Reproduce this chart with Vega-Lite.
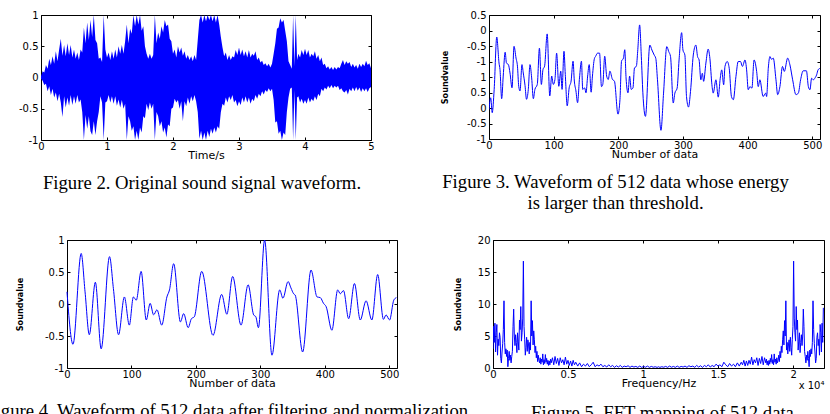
{
  "$schema": "https://vega.github.io/schema/vega-lite/v6.json",
  "padding": {"left": -15, "top": 10, "right": 0, "bottom": 0},
  "config": {
    "view": {"stroke": null},
    "numberFormat": "~r",
    "locale": {"number": {"decimal": ".", "thousands": ",", "grouping": [3], "currency": ["$", ""], "minus": "-"}},
    "axis": {
      "grid": false,
      "domainColor": "black", "domainWidth": 1,
      "tickColor": "black", "tickWidth": 1, "tickSize": -3,
      "labelFont": "DejaVu Sans", "labelFontSize": 10, "labelColor": "black", "labelPadding": 6,
      "labelFlush": false, "labelOverlap": false,
      "titleFont": "DejaVu Sans", "titleFontSize": 11, "titleFontWeight": "normal", "titleColor": "black"
    },
    "axisX": {"titlePadding": -2, "labelPadding": 4},
    "axisY": {"titleFont": "Liberation Sans Narrow, DejaVu Sans Condensed, DejaVu Sans", "titleFontWeight": "bold", "titleFontSize": 9},
    "title": {"font": "Liberation Serif", "fontSize": 18.7, "fontWeight": "normal", "color": "black", "orient": "bottom", "anchor": "middle", "frame": "group", "lineHeight": 21}
  },
  "datasets": {
    "speech": [
      {"t":0.000,"hi":0.02,"lo":-0.02},{"t":0.025,"hi":0.10,"lo":-0.05},{"t":0.050,"hi":0.08,"lo":-0.12},{"t":0.075,"hi":0.20,"lo":-0.10},
      {"t":0.100,"hi":0.14,"lo":-0.22},{"t":0.125,"hi":0.30,"lo":-0.14},{"t":0.150,"hi":0.20,"lo":-0.28},{"t":0.175,"hi":0.34,"lo":-0.18},
      {"t":0.200,"hi":0.22,"lo":-0.32},{"t":0.225,"hi":0.42,"lo":-0.24},{"t":0.250,"hi":0.26,"lo":-0.38},{"t":0.275,"hi":0.45,"lo":-0.26},
      {"t":0.300,"hi":0.62,"lo":-0.40},{"t":0.325,"hi":0.35,"lo":-0.63},{"t":0.350,"hi":0.52,"lo":-0.30},{"t":0.375,"hi":0.34,"lo":-0.48},
      {"t":0.400,"hi":0.55,"lo":-0.32},{"t":0.425,"hi":0.36,"lo":-0.45},{"t":0.450,"hi":0.52,"lo":-0.28},{"t":0.475,"hi":0.32,"lo":-0.44},
      {"t":0.500,"hi":0.45,"lo":-0.30},{"t":0.525,"hi":0.30,"lo":-0.42},{"t":0.550,"hi":0.40,"lo":-0.28},{"t":0.575,"hi":0.28,"lo":-0.40},
      {"t":0.600,"hi":0.45,"lo":-0.35},{"t":0.625,"hi":0.40,"lo":-0.55},{"t":0.650,"hi":0.80,"lo":-1.00},{"t":0.675,"hi":0.55,"lo":-0.60},
      {"t":0.700,"hi":0.88,"lo":-0.82},{"t":0.725,"hi":0.60,"lo":-0.62},{"t":0.750,"hi":0.92,"lo":-0.86},{"t":0.775,"hi":0.65,"lo":-0.92},
      {"t":0.800,"hi":1.00,"lo":-0.70},{"t":0.825,"hi":0.60,"lo":-0.92},{"t":0.850,"hi":0.55,"lo":-0.70},{"t":0.875,"hi":0.30,"lo":-0.55},
      {"t":0.900,"hi":0.32,"lo":-0.30},{"t":0.925,"hi":0.25,"lo":-0.40},{"t":0.950,"hi":1.00,"lo":-1.00},{"t":0.975,"hi":0.45,"lo":-0.40},
      {"t":1.000,"hi":0.32,"lo":-0.38},{"t":1.025,"hi":0.40,"lo":-0.28},{"t":1.050,"hi":0.28,"lo":-0.40},{"t":1.075,"hi":0.42,"lo":-0.30},
      {"t":1.100,"hi":0.30,"lo":-0.42},{"t":1.125,"hi":0.45,"lo":-0.30},{"t":1.150,"hi":0.32,"lo":-0.45},{"t":1.175,"hi":0.50,"lo":-0.35},
      {"t":1.200,"hi":0.38,"lo":-0.48},{"t":1.225,"hi":0.52,"lo":-0.36},{"t":1.250,"hi":0.38,"lo":-0.50},{"t":1.275,"hi":0.58,"lo":-0.42},
      {"t":1.300,"hi":0.85,"lo":-1.00},{"t":1.325,"hi":0.55,"lo":-0.62},{"t":1.350,"hi":0.78,"lo":-0.70},{"t":1.375,"hi":0.70,"lo":-0.85},
      {"t":1.400,"hi":1.00,"lo":-0.78},{"t":1.425,"hi":0.82,"lo":-1.00},{"t":1.450,"hi":1.00,"lo":-0.85},{"t":1.475,"hi":0.85,"lo":-1.00},
      {"t":1.500,"hi":1.00,"lo":-0.80},{"t":1.525,"hi":0.75,"lo":-0.88},{"t":1.550,"hi":0.82,"lo":-0.62},{"t":1.575,"hi":0.50,"lo":-0.65},
      {"t":1.600,"hi":0.38,"lo":-0.42},{"t":1.625,"hi":0.30,"lo":-0.52},{"t":1.650,"hi":0.38,"lo":-0.40},{"t":1.675,"hi":0.30,"lo":-0.50},
      {"t":1.700,"hi":0.36,"lo":-0.42},{"t":1.725,"hi":1.00,"lo":-1.00},{"t":1.750,"hi":0.55,"lo":-0.55},{"t":1.775,"hi":0.72,"lo":-0.62},
      {"t":1.800,"hi":0.62,"lo":-0.78},{"t":1.825,"hi":0.82,"lo":-0.70},{"t":1.850,"hi":0.72,"lo":-0.88},{"t":1.875,"hi":0.92,"lo":-0.80},
      {"t":1.900,"hi":0.82,"lo":-0.96},{"t":1.925,"hi":0.85,"lo":-0.75},{"t":1.950,"hi":0.62,"lo":-0.78},{"t":1.975,"hi":0.58,"lo":-0.50},
      {"t":2.000,"hi":0.38,"lo":-0.48},{"t":2.025,"hi":0.45,"lo":-0.34},{"t":2.050,"hi":0.32,"lo":-0.40},{"t":2.075,"hi":0.50,"lo":-0.36},
      {"t":2.100,"hi":0.40,"lo":-0.50},{"t":2.125,"hi":0.48,"lo":-0.38},{"t":2.150,"hi":0.35,"lo":-0.70},{"t":2.175,"hi":0.42,"lo":-0.38},
      {"t":2.200,"hi":0.30,"lo":-0.46},{"t":2.225,"hi":0.36,"lo":-0.32},{"t":2.250,"hi":0.28,"lo":-0.42},{"t":2.275,"hi":0.34,"lo":-0.30},
      {"t":2.300,"hi":0.26,"lo":-0.38},{"t":2.325,"hi":0.36,"lo":-0.28},{"t":2.350,"hi":0.28,"lo":-0.38},{"t":2.375,"hi":0.60,"lo":-0.55},
      {"t":2.400,"hi":0.92,"lo":-0.98},{"t":2.425,"hi":1.00,"lo":-0.85},{"t":2.450,"hi":0.88,"lo":-1.00},{"t":2.475,"hi":1.00,"lo":-0.88},
      {"t":2.500,"hi":0.90,"lo":-1.00},{"t":2.525,"hi":1.00,"lo":-0.85},{"t":2.550,"hi":0.92,"lo":-0.95},{"t":2.575,"hi":1.00,"lo":-0.82},
      {"t":2.600,"hi":0.90,"lo":-0.90},{"t":2.625,"hi":1.00,"lo":-0.80},{"t":2.650,"hi":0.88,"lo":-0.88},{"t":2.675,"hi":1.00,"lo":-0.78},
      {"t":2.700,"hi":0.85,"lo":-0.82},{"t":2.725,"hi":0.65,"lo":-0.55},{"t":2.750,"hi":0.48,"lo":-0.42},{"t":2.775,"hi":0.34,"lo":-0.45},
      {"t":2.800,"hi":0.40,"lo":-0.32},{"t":2.825,"hi":0.28,"lo":-0.40},{"t":2.850,"hi":0.36,"lo":-0.30},{"t":2.875,"hi":0.28,"lo":-0.36},
      {"t":2.900,"hi":0.34,"lo":-0.28},{"t":2.925,"hi":0.32,"lo":-0.40},{"t":2.950,"hi":0.44,"lo":-0.36},{"t":2.975,"hi":0.36,"lo":-0.46},
      {"t":3.000,"hi":0.48,"lo":-0.38},{"t":3.025,"hi":0.36,"lo":-0.44},{"t":3.050,"hi":0.45,"lo":-0.32},{"t":3.075,"hi":0.34,"lo":-0.40},
      {"t":3.100,"hi":0.42,"lo":-0.30},{"t":3.125,"hi":0.32,"lo":-0.40},{"t":3.150,"hi":0.44,"lo":-0.32},{"t":3.175,"hi":0.32,"lo":-0.42},
      {"t":3.200,"hi":0.38,"lo":-0.34},{"t":3.225,"hi":0.35,"lo":-0.38},{"t":3.250,"hi":0.42,"lo":-0.28},{"t":3.275,"hi":0.28,"lo":-0.34},
      {"t":3.300,"hi":0.32,"lo":-0.26},{"t":3.325,"hi":0.24,"lo":-0.30},{"t":3.350,"hi":0.27,"lo":-0.22},{"t":3.375,"hi":0.20,"lo":-0.27},
      {"t":3.400,"hi":0.23,"lo":-0.20},{"t":3.425,"hi":0.18,"lo":-0.23},{"t":3.450,"hi":0.22,"lo":-0.17},{"t":3.475,"hi":0.16,"lo":-0.22},
      {"t":3.500,"hi":0.22,"lo":-0.18},{"t":3.525,"hi":0.38,"lo":-0.36},{"t":3.550,"hi":0.55,"lo":-0.72},{"t":3.575,"hi":0.78,"lo":-0.70},
      {"t":3.600,"hi":0.80,"lo":-0.90},{"t":3.625,"hi":0.95,"lo":-0.85},{"t":3.650,"hi":0.88,"lo":-1.00},{"t":3.675,"hi":0.92,"lo":-0.88},
      {"t":3.700,"hi":0.75,"lo":-0.92},{"t":3.725,"hi":0.58,"lo":-0.55},{"t":3.750,"hi":0.26,"lo":-0.32},{"t":3.775,"hi":0.20,"lo":-0.18},
      {"t":3.800,"hi":0.14,"lo":-0.16},{"t":3.820,"hi":1.00,"lo":-1.00},{"t":3.840,"hi":0.18,"lo":-0.20},{"t":3.860,"hi":1.00,"lo":-1.00},
      {"t":3.880,"hi":0.28,"lo":-0.32},{"t":3.900,"hi":0.38,"lo":-0.30},{"t":3.925,"hi":0.32,"lo":-0.40},{"t":3.950,"hi":0.44,"lo":-0.34},
      {"t":3.975,"hi":0.36,"lo":-0.42},{"t":4.000,"hi":0.46,"lo":-0.36},{"t":4.025,"hi":0.36,"lo":-0.42},{"t":4.050,"hi":0.44,"lo":-0.32},
      {"t":4.075,"hi":0.32,"lo":-0.40},{"t":4.100,"hi":0.38,"lo":-0.34},{"t":4.125,"hi":0.34,"lo":-0.38},{"t":4.150,"hi":0.42,"lo":-0.30},
      {"t":4.175,"hi":0.30,"lo":-0.36},{"t":4.200,"hi":0.36,"lo":-0.26},{"t":4.225,"hi":0.26,"lo":-0.30},{"t":4.250,"hi":0.32,"lo":-0.18},
      {"t":4.275,"hi":0.20,"lo":-0.22},{"t":4.300,"hi":0.22,"lo":-0.16},{"t":4.325,"hi":0.15,"lo":-0.19},{"t":4.350,"hi":0.18,"lo":-0.13},
      {"t":4.375,"hi":0.13,"lo":-0.17},{"t":4.400,"hi":0.17,"lo":-0.12},{"t":4.425,"hi":0.12,"lo":-0.17},{"t":4.450,"hi":0.17,"lo":-0.13},
      {"t":4.475,"hi":0.13,"lo":-0.16},{"t":4.500,"hi":0.17,"lo":-0.13},{"t":4.525,"hi":0.15,"lo":-0.20},{"t":4.550,"hi":0.22,"lo":-0.17},
      {"t":4.575,"hi":0.28,"lo":-0.22},{"t":4.600,"hi":0.20,"lo":-0.24},{"t":4.625,"hi":0.26,"lo":-0.20},{"t":4.650,"hi":0.22,"lo":-0.27},
      {"t":4.675,"hi":0.25,"lo":-0.18},{"t":4.700,"hi":0.17,"lo":-0.22},{"t":4.725,"hi":0.22,"lo":-0.16},{"t":4.750,"hi":0.16,"lo":-0.22},
      {"t":4.775,"hi":0.20,"lo":-0.15},{"t":4.800,"hi":0.14,"lo":-0.21},{"t":4.825,"hi":0.22,"lo":-0.16},{"t":4.850,"hi":0.17,"lo":-0.23},
      {"t":4.875,"hi":0.22,"lo":-0.17},{"t":4.900,"hi":0.18,"lo":-0.22},{"t":4.925,"hi":0.27,"lo":-0.17},{"t":4.950,"hi":0.20,"lo":-0.23},
      {"t":4.975,"hi":0.23,"lo":-0.17},{"t":5.000,"hi":0.15,"lo":-0.15}
    ],
    "frame512": [
      {"n":0,"v":-0.05},{"n":2.6,"v":0.33},{"n":5,"v":-0.15},{"n":8,"v":0.6},{"n":12,"v":2.29},{"n":15.5,"v":1.45},{"n":17,"v":1.24},
      {"n":19.6,"v":0.3},{"n":22,"v":1.03},{"n":25,"v":1.8},{"n":27,"v":1.45},{"n":30,"v":1.4},{"n":32.5,"v":1.13},{"n":35.6,"v":0.65},
      {"n":38.7,"v":1.99},{"n":41.8,"v":1.61},{"n":44,"v":1.35},{"n":46,"v":0.7},{"n":48,"v":0.55},{"n":51,"v":1.4},{"n":53,"v":1.13},
      {"n":55.7,"v":0.73},{"n":58,"v":0.28},{"n":60.8,"v":0.6},{"n":63.4,"v":1.4},{"n":66,"v":0.97},{"n":68.6,"v":0.3},{"n":71,"v":0.6},
      {"n":74.7,"v":0.76},{"n":78,"v":1.93},{"n":81,"v":0.76},{"n":83.5,"v":1.24},{"n":86,"v":1.35},{"n":90,"v":2.39},{"n":94,"v":0.39},
      {"n":97,"v":1.03},{"n":99.5,"v":0.76},{"n":102,"v":0.92},{"n":104.6,"v":1.77},{"n":108,"v":0.7},{"n":111,"v":1.19},{"n":113,"v":0.6},
      {"n":116,"v":1.83},{"n":118,"v":1.08},{"n":121,"v":0.07},{"n":124,"v":0.65},{"n":127,"v":0.87},{"n":130,"v":1.51},{"n":132,"v":0.87},
      {"n":134.5,"v":0.55},{"n":137,"v":0.17},{"n":140,"v":0.97},{"n":143,"v":1.51},{"n":145,"v":0.6},{"n":148,"v":0.65},{"n":150,"v":0.49},
      {"n":152.6,"v":1.03},{"n":155,"v":1.4},{"n":158,"v":0.51},{"n":160,"v":1.03},{"n":163,"v":1.59},{"n":165,"v":1.67},{"n":168,"v":1.77},
      {"n":171,"v":1.77},{"n":174,"v":0.69},{"n":176,"v":0.76},{"n":179,"v":1.67},{"n":182,"v":1.03},{"n":184.5,"v":0.92},{"n":187,"v":1.19},
      {"n":191,"v":0.92},{"n":194,"v":0.87},{"n":199.5,"v":-0.2},{"n":202.6,"v":0.28},{"n":205,"v":1.51},{"n":208,"v":1.61},{"n":210,"v":1.88},
      {"n":212,"v":0.97},{"n":215,"v":0.49},{"n":217.5,"v":1.03},{"n":220,"v":0.6},{"n":222.7,"v":0.65},{"n":225,"v":1.29},{"n":228,"v":1.35},
      {"n":230,"v":1.83},{"n":233,"v":2.68},{"n":235.6,"v":1.67},{"n":238,"v":0.49},{"n":242,"v":-0.27},{"n":248.8,"v":2.03},{"n":252,"v":1.87},
      {"n":255.5,"v":1.71},{"n":258,"v":1.6},{"n":260.6,"v":0.91},{"n":266,"v":-0.72},{"n":270,"v":0.48},{"n":275,"v":1.98},{"n":278,"v":1.82},
      {"n":280.8,"v":1.66},{"n":285,"v":0.16},{"n":287.5,"v":0.48},{"n":291,"v":0.64},{"n":294,"v":1.55},{"n":298,"v":2.43},{"n":300,"v":1.87},
      {"n":303,"v":1.71},{"n":305.5,"v":0.37},{"n":308.6,"v":0.03},{"n":311.7,"v":0.53},{"n":316,"v":1.71},{"n":320,"v":2.03},{"n":322.6,"v":1.66},
      {"n":325,"v":1.55},{"n":327.7,"v":0.91},{"n":330,"v":1.12},{"n":332,"v":0.86},{"n":335.5,"v":1.45},{"n":339,"v":1.9},{"n":341.7,"v":1.6},
      {"n":344.8,"v":0.75},{"n":346.8,"v":0.48},{"n":351,"v":0.91},{"n":354.6,"v":0.35},{"n":357.7,"v":0.96},{"n":360,"v":1.23},{"n":363,"v":0.75},
      {"n":365,"v":1.34},{"n":368.5,"v":1.5},{"n":371.6,"v":1.28},{"n":375,"v":0.37},{"n":378,"v":0.27},{"n":382,"v":1.02},{"n":385.5,"v":1.5},
      {"n":389,"v":1.5},{"n":392,"v":1.34},{"n":396,"v":1.55},{"n":398.5,"v":1.23},{"n":401,"v":0.59},{"n":403.6,"v":0.69},{"n":406.7,"v":0.64},
      {"n":410,"v":1.55},{"n":414,"v":1.18},{"n":416.5,"v":0.69},{"n":419,"v":0.91},{"n":424,"v":0.37},{"n":428,"v":0.48},{"n":429.4,"v":0.37},
      {"n":432,"v":1.28},{"n":434.6,"v":1.66},{"n":437,"v":1.57},{"n":439.7,"v":1.61},{"n":443.9,"v":0.91},{"n":446.5,"v":0.43},{"n":450,"v":0.69},
      {"n":454,"v":1.34},{"n":456.8,"v":1.18},{"n":462,"v":1.61},{"n":465.5,"v":1.39},{"n":469.7,"v":0.91},{"n":474.8,"v":0.43},{"n":478.5,"v":0.48},
      {"n":482,"v":0.91},{"n":486,"v":1.2},{"n":491,"v":1.2},{"n":494,"v":0.69},{"n":496.5,"v":0.59},{"n":499,"v":0.96},{"n":501.7,"v":0.91},
      {"n":504,"v":0.96},{"n":506.8,"v":1.07},{"n":509,"v":1.23},{"n":512,"v":1.28}
    ],
    "filtered": [
      {"n":0,"v":0.19},{"n":9.3,"v":-0.63},{"n":22,"v":0.79},{"n":28,"v":0.19},{"n":34.6,"v":-0.48},{"n":44,"v":0.34},{"n":53,"v":-0.70},
      {"n":66,"v":0.74},{"n":72,"v":0.24},{"n":80,"v":-0.48},{"n":89,"v":0.11},{"n":96.7,"v":-0.33},{"n":103,"v":0.11},{"n":107.5,"v":0.06},
      {"n":115,"v":0.51},{"n":123,"v":-0.25},{"n":129,"v":0.01},{"n":134.4,"v":-0.17},{"n":139.6,"v":-0.09},{"n":147,"v":-0.33},{"n":155,"v":0.11},
      {"n":159,"v":0.22},{"n":165.5,"v":0.63},{"n":176,"v":-0.28},{"n":181,"v":-0.15},{"n":188,"v":-0.37},{"n":193,"v":-0.23},{"n":197.5,"v":-0.20},
      {"n":209,"v":0.51},{"n":226.5,"v":-0.49},{"n":240,"v":0.15},{"n":248,"v":-0.16},{"n":257,"v":0.43},{"n":270,"v":-0.33},{"n":281,"v":0.30},
      {"n":289.6,"v":-0.17},{"n":293,"v":-0.20},{"n":297,"v":-0.37},{"n":306.6,"v":1.0},{"n":318,"v":-0.80},{"n":330,"v":0.22},{"n":335,"v":0.09},
      {"n":343,"v":0.35},{"n":347.5,"v":0.25},{"n":351.6,"v":0.16},{"n":354,"v":0.14},{"n":365.6,"v":-0.75},{"n":378.6,"v":0.53},{"n":388,"v":0.11},
      {"n":393,"v":0.10},{"n":398,"v":0.01},{"n":402,"v":-0.04},{"n":411,"v":-0.41},{"n":420,"v":0.22},{"n":424,"v":0.16},{"n":429,"v":0.21},
      {"n":437,"v":-0.23},{"n":446,"v":0.32},{"n":455,"v":-0.25},{"n":464,"v":0.05},{"n":473,"v":-0.25},{"n":482,"v":0.46},{"n":491,"v":-0.24},
      {"n":495,"v":-0.17},{"n":500.5,"v":-0.25},{"n":507,"v":0.06},{"n":511,"v":0.10}
    ],
    "spectrum": [
      {"f":0,"a":3.0},{"f":43,"a":6.5},{"f":86,"a":4.0},{"f":129,"a":7.0},{"f":172,"a":2.5},{"f":215,"a":5.5},{"f":258,"a":6.8},{"f":301,"a":2.0},
      {"f":344,"a":4.5},{"f":387,"a":3.5},{"f":430,"a":5.5},{"f":473,"a":4.8},{"f":516,"a":1.5},{"f":560,"a":0.8},{"f":603,"a":2.5},{"f":646,"a":3.8},
      {"f":689,"a":6.0},{"f":732,"a":10.5},{"f":775,"a":4.0},{"f":818,"a":2.2},{"f":861,"a":3.0},{"f":904,"a":1.8},{"f":947,"a":2.8},{"f":990,"a":0.2},
      {"f":1033,"a":1.5},{"f":1077,"a":2.6},{"f":1120,"a":1.2},{"f":1163,"a":2.0},{"f":1206,"a":0.8},{"f":1249,"a":1.8},{"f":1292,"a":2.6},{"f":1335,"a":6.5},
      {"f":1378,"a":9.2},{"f":1421,"a":5.0},{"f":1464,"a":3.5},{"f":1507,"a":5.2},{"f":1550,"a":4.0},{"f":1593,"a":2.4},{"f":1636,"a":5.5},{"f":1679,"a":4.2},
      {"f":1722,"a":2.8},{"f":1765,"a":7.5},{"f":1808,"a":6.0},{"f":1851,"a":9.6},{"f":1894,"a":4.2},{"f":1937,"a":5.5},{"f":1980,"a":7.8},{"f":2024,"a":16.7},
      {"f":2067,"a":6.5},{"f":2110,"a":4.5},{"f":2153,"a":2.0},{"f":2196,"a":3.2},{"f":2239,"a":4.8},{"f":2282,"a":2.6},{"f":2325,"a":4.4},{"f":2368,"a":3.6},
      {"f":2412,"a":2.2},{"f":2455,"a":4.0},{"f":2498,"a":2.8},{"f":2541,"a":10.5},{"f":2584,"a":5.0},{"f":2627,"a":7.4},{"f":2670,"a":3.6},{"f":2713,"a":5.8},
      {"f":2756,"a":4.4},{"f":2800,"a":2.4},{"f":2843,"a":3.4},{"f":2886,"a":1.6},{"f":2929,"a":2.6},{"f":2972,"a":1.0},{"f":3015,"a":2.0},{"f":3058,"a":1.2},
      {"f":3101,"a":0.8},{"f":3144,"a":1.6},{"f":3187,"a":0.6},{"f":3230,"a":1.4},{"f":3273,"a":0.9},{"f":3316,"a":2.2},{"f":3359,"a":0.5},{"f":3402,"a":1.3},
      {"f":3445,"a":0.7},{"f":3488,"a":2.1},{"f":3531,"a":0.9},{"f":3574,"a":1.5},{"f":3617,"a":0.6},{"f":3660,"a":1.2},{"f":3703,"a":0.4},{"f":3746,"a":1.1},
      {"f":3789,"a":0.5},{"f":3832,"a":1.4},{"f":3875,"a":0.8},{"f":3961,"a":1.6},{"f":4047,"a":0.5},{"f":4133,"a":1.8},{"f":4220,"a":0.7},{"f":4306,"a":1.5},
      {"f":4392,"a":0.4},{"f":4478,"a":1.6},{"f":4565,"a":0.8},{"f":4651,"a":1.3},{"f":4737,"a":0.5},{"f":4823,"a":1.7},{"f":4910,"a":0.6},{"f":4996,"a":1.2},
      {"f":5082,"a":0.4},{"f":5168,"a":1.1},{"f":5254,"a":0.3},{"f":5340,"a":1.2},{"f":5427,"a":0.5},{"f":5513,"a":0.9},{"f":5643,"a":0.3},{"f":5771,"a":0.8},
      {"f":5900,"a":0.2},{"f":6029,"a":0.6},{"f":6158,"a":0.3},{"f":6287,"a":0.7},{"f":6416,"a":0.2},{"f":6545,"a":0.5},{"f":6674,"a":0.9},{"f":6803,"a":0.2},
      {"f":6932,"a":0.5},{"f":7062,"a":0.3},{"f":7191,"a":0.6},{"f":7320,"a":0.2},{"f":7449,"a":0.4},{"f":7578,"a":0.15},{"f":7707,"a":0.5},{"f":7836,"a":0.2},
      {"f":7966,"a":0.4},{"f":8095,"a":0.1},{"f":8224,"a":0.35},{"f":8353,"a":0.15},{"f":8482,"a":0.4},{"f":8611,"a":0.1},{"f":8740,"a":0.3},{"f":8870,"a":0.2},
      {"f":8999,"a":0.35},{"f":9128,"a":0.1},{"f":9257,"a":0.3},{"f":9386,"a":0.15},{"f":9515,"a":0.25},{"f":9644,"a":0.1},{"f":9773,"a":0.3},{"f":9903,"a":0.1},
      {"f":10032,"a":0.25},{"f":10161,"a":0.12},{"f":10290,"a":0.3},{"f":10419,"a":0.1},{"f":10548,"a":0.25},{"f":10677,"a":0.12},{"f":10806,"a":0.2},{"f":10935,"a":0.1},
      {"f":11025,"a":0.2},
      {"f":11115,"a":0.1},{"f":11244,"a":0.2},{"f":11373,"a":0.12},{"f":11502,"a":0.25},{"f":11631,"a":0.1},{"f":11760,"a":0.3},{"f":11889,"a":0.12},{"f":12018,"a":0.25},
      {"f":12147,"a":0.1},{"f":12277,"a":0.3},{"f":12406,"a":0.1},{"f":12535,"a":0.25},{"f":12664,"a":0.15},{"f":12793,"a":0.3},{"f":12922,"a":0.1},{"f":13051,"a":0.35},
      {"f":13180,"a":0.2},{"f":13310,"a":0.3},{"f":13439,"a":0.1},{"f":13568,"a":0.4},{"f":13697,"a":0.15},{"f":13826,"a":0.35},{"f":13955,"a":0.1},{"f":14084,"a":0.4},
      {"f":14214,"a":0.2},{"f":14343,"a":0.5},{"f":14472,"a":0.15},{"f":14601,"a":0.4},{"f":14730,"a":0.2},{"f":14859,"a":0.6},{"f":14988,"a":0.3},{"f":15118,"a":0.5},
      {"f":15247,"a":0.2},{"f":15376,"a":0.9},{"f":15505,"a":0.5},{"f":15634,"a":0.2},{"f":15763,"a":0.7},{"f":15892,"a":0.3},{"f":16021,"a":0.6},{"f":16150,"a":0.2},
      {"f":16279,"a":0.8},{"f":16407,"a":0.3},{"f":16537,"a":0.9},{"f":16623,"a":0.5},{"f":16710,"a":1.2},{"f":16796,"a":0.3},{"f":16882,"a":1.1},{"f":16968,"a":0.4},
      {"f":17054,"a":1.2},{"f":17140,"a":0.6},{"f":17227,"a":1.7},{"f":17313,"a":0.5},{"f":17399,"a":1.3},{"f":17485,"a":0.8},{"f":17572,"a":1.6},{"f":17658,"a":0.4},
      {"f":17744,"a":1.5},{"f":17830,"a":0.7},{"f":17917,"a":1.8},{"f":18003,"a":0.5},{"f":18089,"a":1.6},{"f":18175,"a":0.8},{"f":18218,"a":1.4},{"f":18261,"a":0.5},
      {"f":18304,"a":1.1},{"f":18347,"a":0.4},{"f":18390,"a":1.2},{"f":18433,"a":0.6},{"f":18476,"a":1.5},{"f":18519,"a":0.9},{"f":18562,"a":2.1},{"f":18605,"a":0.7},
      {"f":18648,"a":1.3},{"f":18691,"a":0.5},{"f":18734,"a":2.2},{"f":18777,"a":0.9},{"f":18820,"a":1.4},{"f":18863,"a":0.6},{"f":18906,"a":1.6},{"f":18949,"a":0.8},
      {"f":18992,"a":1.2},{"f":19035,"a":2.0},{"f":19078,"a":1.0},{"f":19121,"a":2.6},{"f":19164,"a":1.6},{"f":19207,"a":3.4},{"f":19250,"a":2.4},{"f":19294,"a":4.4},
      {"f":19337,"a":5.8},{"f":19380,"a":3.6},{"f":19423,"a":7.4},{"f":19466,"a":5.0},{"f":19509,"a":10.5},{"f":19552,"a":2.8},{"f":19595,"a":4.0},{"f":19638,"a":2.2},
      {"f":19682,"a":3.6},{"f":19725,"a":4.4},{"f":19768,"a":2.6},{"f":19811,"a":4.8},{"f":19854,"a":3.2},{"f":19897,"a":2.0},{"f":19940,"a":4.5},{"f":19983,"a":6.5},
      {"f":20026,"a":16.7},{"f":20070,"a":7.8},{"f":20113,"a":5.5},{"f":20156,"a":4.2},{"f":20199,"a":9.6},{"f":20242,"a":6.0},{"f":20285,"a":7.5},{"f":20328,"a":2.8},
      {"f":20371,"a":4.2},{"f":20414,"a":5.5},{"f":20457,"a":2.4},{"f":20500,"a":4.0},{"f":20543,"a":5.2},{"f":20586,"a":3.5},{"f":20629,"a":5.0},{"f":20672,"a":9.2},
      {"f":20715,"a":6.5},{"f":20758,"a":2.6},{"f":20801,"a":1.8},{"f":20844,"a":0.8},{"f":20887,"a":2.0},{"f":20930,"a":1.2},{"f":20973,"a":2.6},{"f":21017,"a":1.5},
      {"f":21060,"a":0.2},{"f":21103,"a":2.8},{"f":21146,"a":1.8},{"f":21189,"a":3.0},{"f":21232,"a":2.2},{"f":21275,"a":4.0},{"f":21318,"a":10.5},{"f":21361,"a":6.0},
      {"f":21404,"a":3.8},{"f":21447,"a":2.5},{"f":21490,"a":0.8},{"f":21534,"a":1.5},{"f":21577,"a":4.8},{"f":21620,"a":5.5},{"f":21663,"a":3.5},{"f":21706,"a":4.5},
      {"f":21749,"a":2.0},{"f":21792,"a":6.8},{"f":21835,"a":5.5},{"f":21878,"a":2.5},{"f":21921,"a":7.0},{"f":21964,"a":4.0},{"f":22007,"a":9.4}
    ]
  },
  "spacing": 225,
  "bounds": "flush",
  "vconcat": [
    {
      "spacing": 118,
      "bounds": "flush",
      "hconcat": [
        {
          "width": 330, "height": 125,
          "title": {"text": "Figure 2. Original sound signal waveform.", "dx": -4, "offset": 14},
          "data": {"name": "speech"},
          "layer": [
            {
              "mark": {"type": "area", "color": "#0000ff", "clip": true},
              "encoding": {
                "x": {"field": "t", "type": "quantitative", "scale": {"domain": [0, 5], "nice": false, "zero": false},
                      "axis": {"values": [0, 1, 2, 3, 4, 5], "title": "Time/s"}},
                "y": {"field": "hi", "type": "quantitative", "scale": {"domain": [-1, 1], "nice": false},
                      "axis": {"values": [-1, -0.5, 0, 0.5, 1], "title": null}},
                "y2": {"field": "lo"}
              }
            },
            {
              "mark": {"type": "line", "opacity": 0},
              "encoding": {
                "x": {"field": "t", "type": "quantitative", "axis": {"orient": "top", "values": [0, 1, 2, 3, 4, 5], "labels": false, "title": null}},
                "y": {"field": "hi", "type": "quantitative", "axis": {"orient": "right", "values": [-1, -0.5, 0, 0.5, 1], "labels": false, "title": null}}
              }
            }
          ],
          "resolve": {"axis": {"x": "independent", "y": "independent"}}
        },
        {
          "width": 331, "height": 124,
          "title": {"text": ["Figure 3. Waveform of 512 data whose energy", "is larger than threshold."], "dx": -39, "offset": 14},
          "data": {"name": "frame512"},
          "layer": [
            {
              "mark": {"type": "line", "color": "#0000ff", "strokeWidth": 1, "interpolate": "monotone", "clip": true},
              "encoding": {
                "x": {"field": "n", "type": "quantitative", "scale": {"domain": [0, 512], "nice": false, "zero": false},
                      "axis": {"values": [0, 100, 200, 300, 400, 500], "title": "Number of data"}},
                "y": {"field": "v", "type": "quantitative", "scale": {"domain": [-1, 3], "nice": false},
                      "axis": {"values": [-1, -0.5, 0, 0.5, 1, 1.5, 2, 2.5, 3],
                               "labelExpr": "replace(datum.value > 1 ? format(datum.value - 2.5, '') : format(datum.value, ''), '\u2212', '-')",
                               "title": "Soundvalue", "titlePadding": 17}}
              }
            },
            {
              "mark": {"type": "line", "opacity": 0},
              "encoding": {
                "x": {"field": "n", "type": "quantitative", "axis": {"orient": "top", "values": [0, 100, 200, 300, 400, 500], "labels": false, "title": null}},
                "y": {"field": "v", "type": "quantitative", "axis": {"orient": "right", "values": [-1, -0.5, 0, 0.5, 1, 1.5, 2, 2.5, 3], "labels": false, "title": null}}
              }
            }
          ],
          "resolve": {"axis": {"x": "independent", "y": "independent"}}
        }
      ]
    },
    {
      "spacing": 96,
      "bounds": "flush",
      "hconcat": [
        {
          "width": 356, "height": 128,
          "title": {"text": "Figure 4. Waveform of 512 data after filtering and normalization.", "dx": 10, "offset": 14},
          "data": {"name": "filtered"},
          "layer": [
            {
              "mark": {"type": "line", "color": "#0000ff", "strokeWidth": 1, "interpolate": "monotone", "clip": true},
              "encoding": {
                "x": {"field": "n", "type": "quantitative", "scale": {"domain": [0, 512], "range": [26, 356], "nice": false, "zero": false},
                      "axis": {"values": [0, 100, 200, 300, 400, 500], "title": "Number of data"}},
                "y": {"field": "v", "type": "quantitative", "scale": {"domain": [-1, 1], "nice": false},
                      "axis": {"values": [-1, -0.5, 0, 0.5, 1], "offset": -26, "title": "Soundvalue", "titlePadding": 20}}
              }
            },
            {
              "mark": {"type": "line", "opacity": 0},
              "encoding": {
                "x": {"field": "n", "type": "quantitative", "axis": {"orient": "top", "values": [0, 100, 200, 300, 400, 500], "labels": false, "title": null}},
                "y": {"field": "v", "type": "quantitative", "axis": {"orient": "right", "values": [-1, -0.5, 0, 0.5, 1], "labels": false, "title": null}}
              }
            }
          ],
          "resolve": {"axis": {"x": "independent", "y": "independent"}}
        },
        {
          "width": 331, "height": 128,
          "title": {"text": "Figure 5. FFT mapping of 512 data", "dx": 4, "offset": 14},
          "data": {"name": "spectrum"},
          "layer": [
            {
              "mark": {"type": "line", "color": "#0000ff", "strokeWidth": 1, "clip": true},
              "encoding": {
                "x": {"field": "f", "type": "quantitative", "scale": {"domain": [0, 22050], "nice": false, "zero": false},
                      "axis": {"values": [0, 5000, 10000, 15000, 20000], "labelExpr": "format(datum.value / 10000, '')", "title": "Frequency/Hz"}},
                "y": {"field": "a", "type": "quantitative", "scale": {"domain": [0, 20], "nice": false},
                      "axis": {"values": [0, 5, 10, 15, 20], "title": "Soundvalue", "titlePadding": 15}}
              }
            },
            {
              "mark": {"type": "line", "opacity": 0},
              "encoding": {
                "x": {"field": "f", "type": "quantitative", "axis": {"orient": "top", "values": [0, 5000, 10000, 15000, 20000], "labels": false, "title": null}},
                "y": {"field": "a", "type": "quantitative", "axis": {"orient": "right", "values": [0, 5, 10, 15, 20], "labels": false, "title": null}}
              }
            },
            {
              "mark": {"type": "line", "opacity": 0},
              "encoding": {
                "x": {"field": "f", "type": "quantitative",
                      "axis": {"orient": "bottom", "domain": false, "ticks": false, "labels": false, "title": "x 10⁴", "titleAnchor": "end", "titleFontSize": 10, "titlePadding": 12}},
                "y": {"field": "a", "type": "quantitative", "axis": null}
              }
            }
          ],
          "resolve": {"axis": {"x": "independent", "y": "independent"}}
        }
      ]
    }
  ]
}
